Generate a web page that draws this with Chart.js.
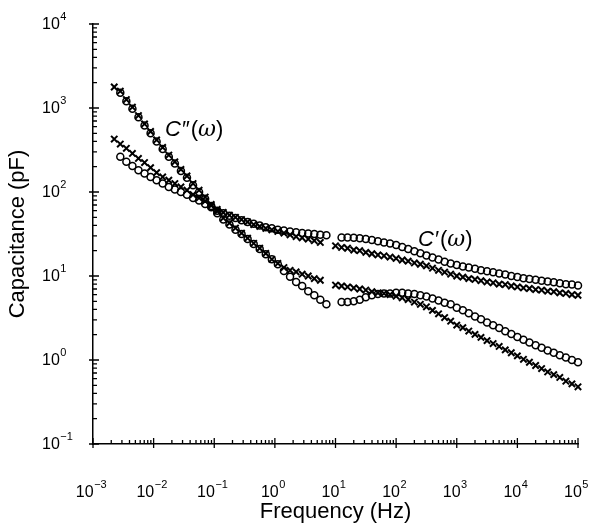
<!DOCTYPE html>
<html>
<head>
<meta charset="utf-8">
<script src="https://cdn.jsdelivr.net/npm/chart.js@4/dist/chart.umd.min.js"></script>
<style>
  html, body { margin: 0; padding: 0; background: #fff; }
  canvas { display: block; }
</style>
</head>
<body>
<canvas id="cap" width="590" height="523"></canvas>
<script>
// frequencies (Hz), low band and high band
var freqLow = [0.00224,0.00282,0.00355,0.00447,0.00562,0.00708,0.00891,0.0112,0.0141,0.0178,
  0.0224,0.0282,0.0355,0.0447,0.0562,0.0708,0.0891,0.112,0.141,0.178,
  0.224,0.282,0.355,0.447,0.562,0.708,0.891,1.12,1.41,1.78,
  2.24,2.82,3.55,4.47,5.62,7.08];
var freqHigh = [10,12.6,15.8,20,25.1,31.6,39.8,50.1,63.1,79.4,
  100,126,158,200,251,316,398,501,631,794,
  1000,1260,1580,2000,2510,3160,3980,5010,6310,7940,
  10000,12600,15800,20000,25100,31600,39800,50100,63100,79400,100000];

// C'(w), pF
var cReCircleLow = [null,263,229,204,182,166,151,138,126,115,107,100,93,85,79,72,66,60,56,52,
  49,46,44,42,40,38,37,35.5,34.7,33.9,33.1,32.4,32.0,31.6,30.9,30.5];
var cReCrossLow = [427,372,331,288,251,224,195,170,151,138,126,115,105,93,85,78,69,62,57,53,
  50,47,44,41,39,37,35.5,33.9,32.4,30.9,29.5,28.5,27.5,26.3,25.1,null];
var cReCircleHigh = [null,28.8,28.8,28.5,28.2,27.5,26.9,26.0,25.1,24.3,23.4,22.1,20.9,19.7,18.6,17.6,16.6,15.7,14.8,14.1,
  13.5,13.0,12.6,12.2,11.7,11.4,11.1,10.7,10.4,10.0,9.7,9.4,9.2,9.0,8.8,8.6,8.4,8.2,8.0,7.9,7.7];
var cReCrossHigh = [22.9,21.9,21.4,20.4,20.0,19.1,18.4,17.8,17.4,16.8,16.2,15.5,15.0,14.3,13.8,13.2,12.4,11.7,11.1,10.5,
  10.0,9.7,9.3,9.1,8.8,8.5,8.3,8.0,7.9,7.6,7.4,7.2,7.1,6.9,6.8,6.6,6.5,6.3,6.2,6.0,5.9];

// C''(w), pF
var cImCircleLow = [null,1514,1202,977,776,617,501,398,324,263,219,178,148,120,100,83,68,56,47,41,
  35.5,31.6,27.5,24.0,20.9,18.2,15.8,13.8,11.5,9.8,8.5,7.6,6.6,5.9,5.2,4.6];
var cImCrossLow = [1778,1585,1259,1023,813,646,525,417,339,275,229,186,155,126,105,87,71,59,49,42.7,
  37.2,32.4,28.2,24.5,21.4,18.6,15.8,14.1,12.6,11.7,11.2,10.5,10.0,9.3,8.9,null];
var cImCircleHigh = [null,4.9,4.9,5.0,5.2,5.6,5.9,6.1,6.2,6.2,6.3,6.3,6.2,6.1,5.9,5.7,5.4,5.1,4.8,4.6,
  4.2,3.9,3.6,3.3,3.05,2.8,2.6,2.4,2.2,2.04,1.88,1.74,1.62,1.50,1.40,1.30,1.22,1.14,1.07,1.00,0.94];
var cImCrossHigh = [7.8,7.6,7.4,7.2,7.0,6.8,6.5,6.3,6.2,6.0,5.75,5.5,5.25,4.9,4.6,4.3,3.9,3.55,3.2,2.9,
  2.6,2.43,2.21,2.02,1.86,1.70,1.57,1.45,1.32,1.22,1.12,1.02,0.94,0.86,0.79,0.72,0.67,0.62,0.56,0.52,0.48];

// decade tick exponents
var xTickExp = [-3,-2,-1,0,1,2,3,4,5];
var yTickExp = [-1,0,1,2,3,4];

function pts(fl, vl, fh, vh) {
  var out = [];
  fl.forEach(function (f, i) { if (vl[i] != null) out.push({x: f, y: vl[i]}); });
  fh.forEach(function (f, i) { if (vh[i] != null) out.push({x: f, y: vh[i]}); });
  return out;
}

var ink = '#000';

function circleSet(label, data) {
  return { label: label, data: data, pointStyle: 'circle', pointRadius: 3.5,
    pointBorderWidth: 1.5, pointBorderColor: ink, pointBackgroundColor: 'rgba(255,255,255,0)',
    showLine: false, clip: false };
}
function crossSet(label, data) {
  return { label: label, data: data, pointStyle: 'crossRot', pointRadius: 4.5,
    pointBorderWidth: 2, pointBorderColor: ink, pointBackgroundColor: ink,
    showLine: false, clip: false };
}

function sup(v) { return v < 0 ? '\u2212' + (-v) : String(v); }

// inward minor ticks, crossing major ticks, and 10^n labels
var axisDeco = {
  id: 'axisDeco',
  afterDraw: function (chart) {
    var ctx = chart.ctx, xs = chart.scales.x, ys = chart.scales.y;
    var a = chart.chartArea;
    ctx.save();
    ctx.strokeStyle = ink;
    ctx.lineWidth = 1.3;
    ctx.beginPath();
    xTickExp.forEach(function (e, i) {
      var p = xs.getPixelForValue(Math.pow(10, e));
      ctx.moveTo(p, a.bottom + 4); ctx.lineTo(p, a.bottom - 6);
      if (i < xTickExp.length - 1) {
        for (var k = 2; k < 10; k++) {
          var q = xs.getPixelForValue(k * Math.pow(10, e));
          ctx.moveTo(q, a.bottom); ctx.lineTo(q, a.bottom - 4);
        }
      }
    });
    yTickExp.forEach(function (e, i) {
      var p = ys.getPixelForValue(Math.pow(10, e));
      ctx.moveTo(a.left - 4, p); ctx.lineTo(a.left + 6, p);
      if (i < yTickExp.length - 1) {
        for (var k = 2; k < 10; k++) {
          var q = ys.getPixelForValue(k * Math.pow(10, e));
          ctx.moveTo(a.left, q); ctx.lineTo(a.left + 4, q);
        }
      }
    });
    ctx.stroke();

    var big = '16px "Liberation Sans", Arial, sans-serif';
    var small = '11px "Liberation Sans", Arial, sans-serif';
    ctx.fillStyle = ink;
    ctx.textBaseline = 'middle';
    ctx.textAlign = 'left';
    xTickExp.forEach(function (e) {
      var p = xs.getPixelForValue(Math.pow(10, e));
      ctx.font = big; var w1 = ctx.measureText('10').width;
      ctx.font = small; var w2 = ctx.measureText(sup(e)).width;
      var x0 = p - 2 - (w1 + w2) / 2;
      ctx.font = big; ctx.fillText('10', x0, 493);
      ctx.font = small; ctx.fillText(sup(e), x0 + w1 + 0.5, 485);
    });
    yTickExp.forEach(function (e) {
      var p = ys.getPixelForValue(Math.pow(10, e));
      ctx.font = big; var w1 = ctx.measureText('10').width;
      ctx.fillText('10', 42, p + 1);
      ctx.font = small; ctx.fillText(sup(e), 42 + w1 + 0.5, p - 7);
    });

    // curve annotations
    var it = 'italic 22px "Liberation Sans", Arial, sans-serif';
    var rg = '22px "Liberation Sans", Arial, sans-serif';
    function note(x, y, prime) {
      ctx.textBaseline = 'alphabetic';
      ctx.font = it; ctx.fillText('C', x, y);
      var w = ctx.measureText('C').width;
      ctx.font = it; ctx.fillText(prime, x + w, y);
      w += ctx.measureText(prime).width + 2;
      ctx.font = rg; ctx.fillText('(', x + w, y);
      w += ctx.measureText('(').width;
      ctx.font = 'italic 22px "DejaVu Serif", serif'; ctx.fillText('\u03C9', x + w, y);
      w += ctx.measureText('\u03C9').width;
      ctx.font = rg; ctx.fillText(')', x + w, y);
    }
    note(165, 136, '\u2033');
    note(418, 246, '\u2032');
    ctx.restore();
  }
};

var titleFont = { family: '"Liberation Sans", Arial, sans-serif', size: 22, lineHeight: 1 };

new Chart(document.getElementById('cap'), {
  type: 'scatter',
  data: {
    datasets: [
      crossSet("C'' sample 2", pts(freqLow, cImCrossLow, freqHigh, cImCrossHigh)),
      crossSet("C' sample 2", pts(freqLow, cReCrossLow, freqHigh, cReCrossHigh)),
      circleSet("C'' sample 1", pts(freqLow, cImCircleLow, freqHigh, cImCircleHigh)),
      circleSet("C' sample 1", pts(freqLow, cReCircleLow, freqHigh, cReCircleHigh))
    ]
  },
  options: {
    responsive: false,
    animation: false,
    layout: { padding: { top: 24, right: 12, left: 0, bottom: 0 } },
    plugins: { legend: { display: false }, tooltip: { enabled: false } },
    scales: {
      x: {
        type: 'logarithmic', min: 0.001, max: 100000,
        grid: { display: false },
        border: { display: true, color: ink, width: 1.5 },
        ticks: { display: false },
        title: { display: true, text: 'Frequency (Hz)', color: ink, font: titleFont, padding: 0 },
        afterFit: function (s) { s.height = 79; }
      },
      y: {
        type: 'logarithmic', min: 0.1, max: 10000,
        grid: { display: false },
        border: { display: true, color: ink, width: 1.5 },
        ticks: { display: false },
        title: { display: true, text: 'Capacitance (pF)', color: ink, font: titleFont, padding: { top: 7 } },
        afterFit: function (s) { s.width = 93; }
      }
    }
  },
  plugins: [axisDeco]
});
</script>
</body>
</html>
